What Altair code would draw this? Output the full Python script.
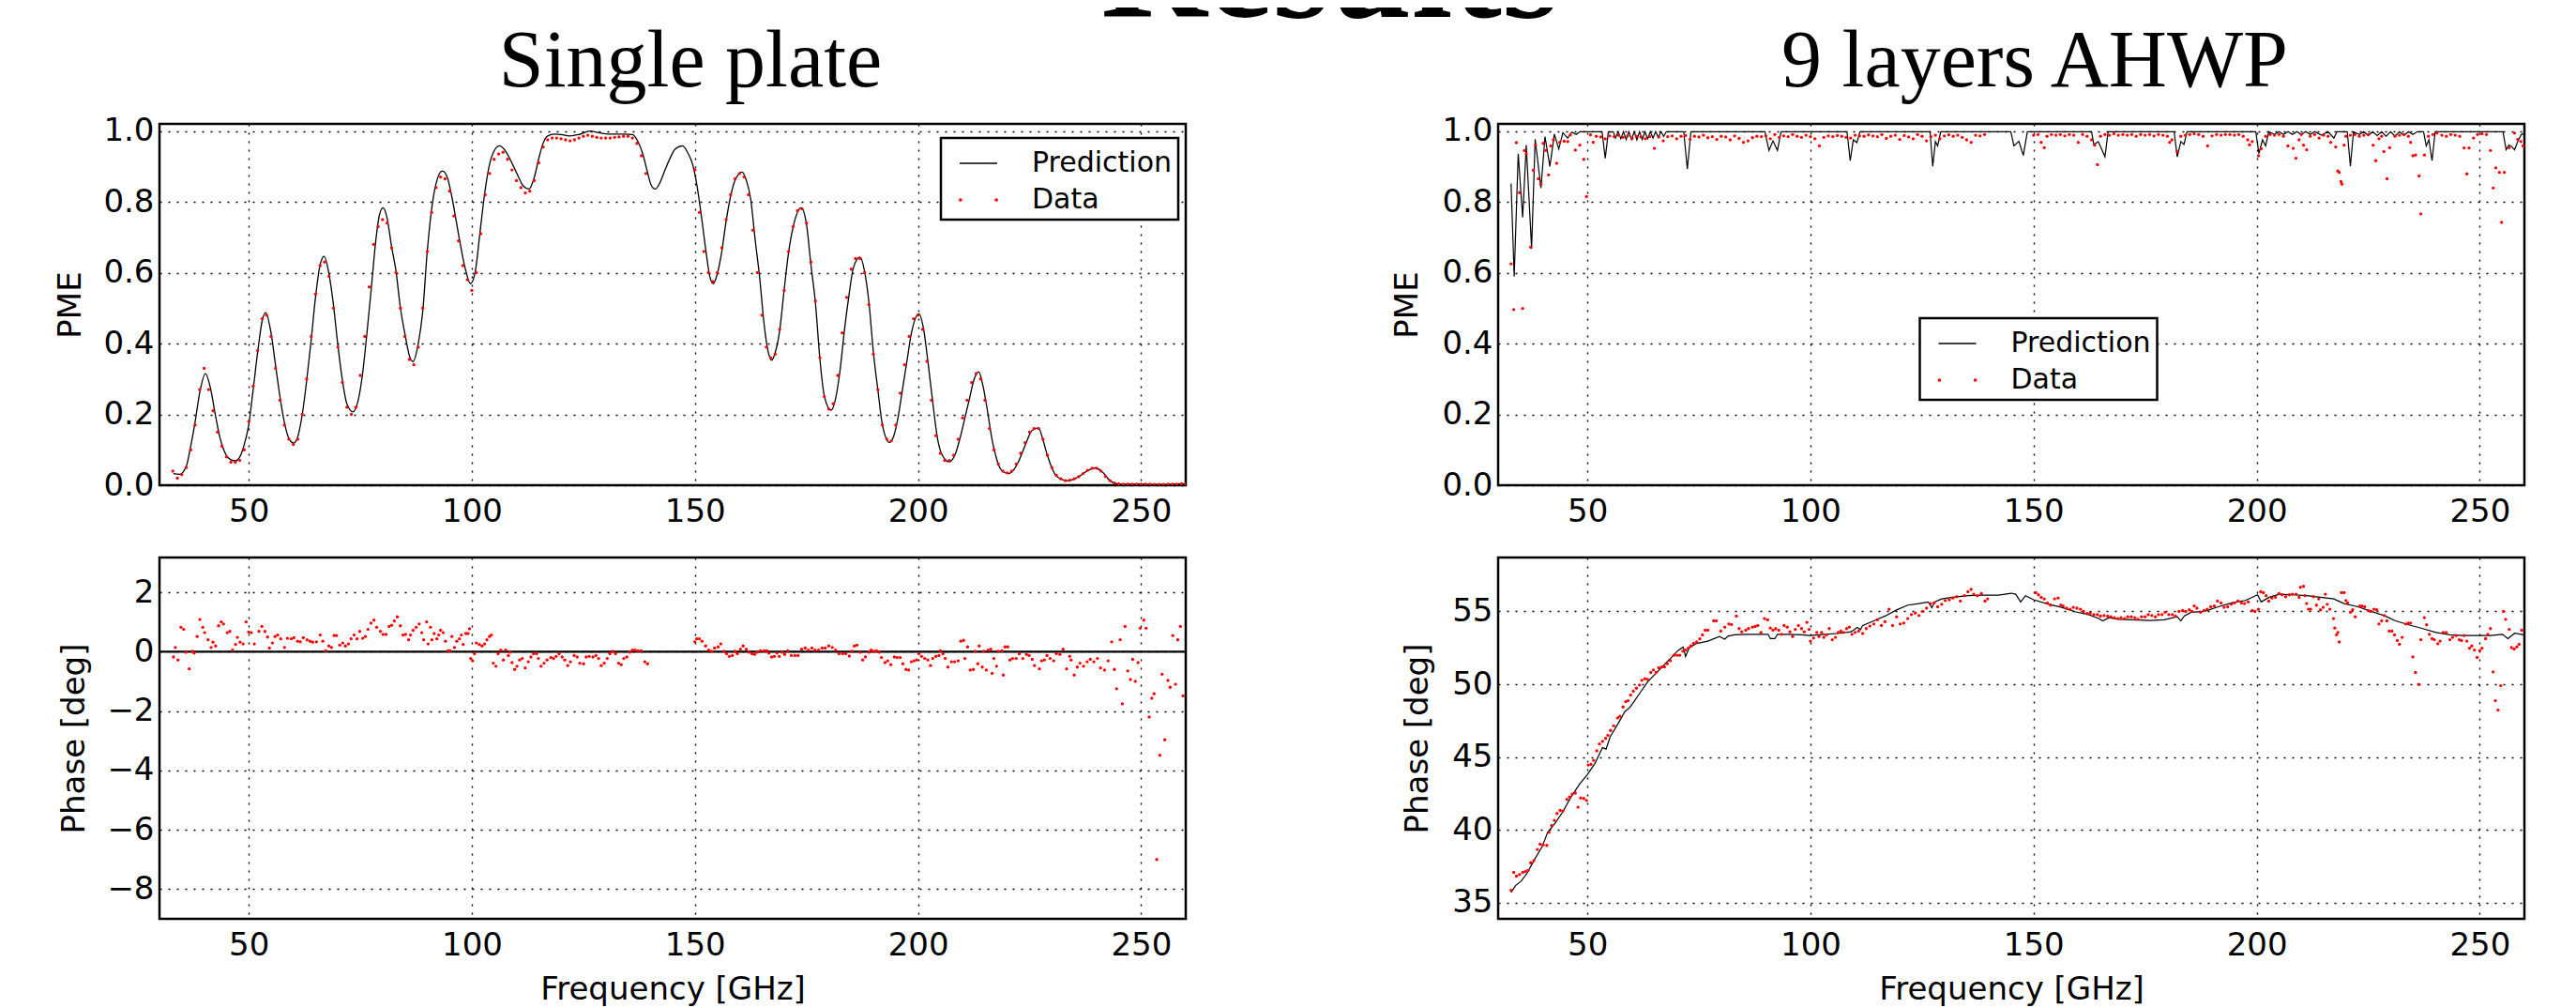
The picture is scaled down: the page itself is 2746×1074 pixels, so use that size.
import altair as alt
import pandas as pd

# ---------------- data (GHz, value) ----------------
SP_PRED = [(33.1,0.033),(34.5,0.031),(36,0.053),(37,0.11),(38,0.18),(39,0.26),(40.3,0.315),(41.5,0.27),(42.5,0.2),(43.5,0.137),(44.5,0.097),(46,0.072),(47,0.069),(48,0.08),(49,0.115),(50,0.17),(51,0.27),(52,0.375),(53,0.463),(53.8,0.487),(55,0.43),(56,0.34),(57,0.25),(58,0.177),(59,0.132),(60.1,0.119),(61,0.137),(62,0.2),(63,0.296),(64,0.41),(65,0.534),(66,0.622),(66.9,0.646),(68,0.596),(69,0.508),(70,0.393),(71,0.296),(72,0.23),(73.4,0.207),(74.5,0.238),(75.5,0.313),(76.5,0.43),(77.5,0.56),(78.5,0.693),(79.3,0.763),(80.1,0.783),(81,0.755),(82,0.675),(83,0.605),(84,0.5),(85,0.428),(86,0.366),(86.8,0.349),(88,0.4),(89,0.49),(90,0.658),(91,0.78),(92,0.852),(93.4,0.887),(94.5,0.869),(95.5,0.816),(96.5,0.746),(97.5,0.675),(98.5,0.613),(99.7,0.569),(100.8,0.605),(101.8,0.71),(102.8,0.816),(103.8,0.896),(105,0.944),(106.2,0.958),(107.5,0.944),(108.5,0.922),(109.5,0.896),(110.5,0.869),(111.5,0.845),(112.8,0.836),(114,0.869),(115,0.922),(116,0.966),(117,0.986),(118.5,0.991),(120,0.99),(122,0.986),(124,0.99),(126.5,1.0),(128.5,0.995),(131,0.991),(134,0.991),(136,0.99),(137.2,0.971),(138.3,0.936),(139.3,0.887),(140.2,0.847),(141.1,0.836),(142.2,0.855),(143.3,0.89),(144.5,0.925),(145.5,0.948),(147.2,0.958),(148.5,0.936),(149.5,0.905),(150.5,0.843),(151.5,0.755),(152.5,0.658),(153.3,0.591),(154.1,0.569),(155,0.596),(156,0.658),(157,0.746),(158,0.816),(159,0.861),(160.6,0.884),(161.5,0.861),(162.5,0.808),(163.5,0.693),(164.5,0.587),(165.5,0.455),(166.3,0.384),(167.2,0.353),(168,0.375),(169,0.437),(170,0.552),(171,0.658),(172,0.728),(173.8,0.783),(175,0.737),(176,0.622),(177,0.516),(178,0.357),(179,0.252),(180.5,0.212),(181.5,0.243),(182.5,0.322),(183.5,0.437),(184.5,0.534),(185.5,0.613),(187,0.644),(188,0.605),(189,0.516),(190,0.375),(191,0.269),(192,0.172),(193.6,0.121),(194.5,0.137),(195.5,0.19),(196.5,0.269),(197.5,0.349),(198.5,0.428),(200.2,0.484),(201.3,0.437),(202.3,0.34),(203.3,0.234),(204.3,0.137),(205.3,0.088),(207,0.066),(208.5,0.093),(209.5,0.137),(210.5,0.19),(211.5,0.243),(212.5,0.296),(213.6,0.32),(214.6,0.278),(215.6,0.207),(216.6,0.128),(217.6,0.075),(218.6,0.044),(220.2,0.033),(221.5,0.044),(222.5,0.066),(223.5,0.097),(224.5,0.128),(225.5,0.154),(227,0.162),(228,0.128),(229,0.084),(230,0.049),(231,0.026),(233.6,0.013),(236,0.024),(238,0.041),(239.7,0.049),(241.5,0.035),(243,0.013),(245,0.003),(250,0.003),(255,0.002),(260,0.004)]

SP_DATA = [(33,.04),(34,.02),(35,.03),(36,.05),(37,.10),(38,.17),(39,.27),(40,.33),(41,.27),(42,.21),(43,.15),(44,.11),(45,.08),(46,.065),(47,.065),(48,.07),(49,.10),(50,.18),(51,.28),(52,.38),(53,.47),(54,.48),(55,.42),(56,.33),(57,.24),(58,.17),(59,.13),(60,.115),(61,.13),(62,.20),(63,.30),(64,.42),(65,.54),(66,.62),(67,.63),(68,.59),(69,.50),(70,.39),(71,.29),(72,.22),(73,.20),(74,.22),(75,.31),(76,.42),(77,.56),(78,.68),(79,.73),(80,.75),(81,.74),(82,.67),(83,.60),(84,.50),(85,.42),(86,.355),(87,.34),(88,.39),(89,.50),(90,.66),(91,.77),(92,.84),(93,.87),(94,.865),(95,.83),(96,.76),(97,.69),(98,.62),(99,.58),(100,.55),(101,.60),(102,.71),(103,.82),(104,.88),(105,.92),(106,.935),(107,.94),(108,.92),(109,.89),(110,.86),(111,.84),(112,.825),(113,.83),(114,.86),(115,.91),(116,.955),(117,.975),(118,.98),(119,.98),(120,.978),(121,.975),(122,.972),(123,.975),(124,.98),(125,.985),(126,.988),(127,.985),(128,.982),(129,.98),(130,.98),(131,.98),(132,.982),(133,.983),(134,.985),(135,.985),(136,.98),(137,.965),(138,.93),(139,.88),
(150,.89),(151,.77),(152,.66),(153,.60),(154,.575),(155,.60),(156,.67),(157,.75),(158,.82),(159,.865),(160,.88),(161,.87),(162,.82),(163,.72),(164,.60),(165,.48),(166,.39),(167,.36),(168,.37),(169,.44),(170,.55),(171,.66),(172,.73),(173,.775),(174,.78),(175,.74),(176,.63),(177,.52),(178,.36),(179,.25),(180,.215),(181,.23),(182,.31),(183,.43),(184,.53),(185,.61),(186,.64),(187,.64),(188,.60),(189,.51),(190,.37),(191,.27),(192,.17),(193,.13),(194,.125),(195,.17),(196,.26),(197,.34),(198,.42),(199,.47),(200,.48),(201,.44),(202,.35),(203,.24),(204,.14),(205,.09),(206,.07),(207,.07),(208,.085),(209,.13),(210,.19),(211,.24),(212,.29),(213,.315),(214,.30),(215,.24),(216,.16),(217,.10),(218,.06),(219,.04),(220,.035),(221,.04),(222,.06),(223,.09),(224,.12),(225,.15),(226,.16),(227,.16),(228,.13),(229,.085),(230,.05),(231,.028),(232,.018),(233,.013),(234,.014),(235,.018),(236,.024),(237,.033),(238,.042),(239,.048),(240,.048),(241,.04),(242,.025),(243,.013),(244,.006),(245,.004),(246,.003),(247,.003),(248,.003),(249,.003),(250,.003),(251,.003),(252,.003),(253,.002),(254,.002),(255,.002),(256,.003),(257,.003),(258,.003),(259,.004),(260,.004)]

AH_PRED = [(32.9,0.852),(33.6,0.589),(34.5,0.936),(35.5,0.756),(36.3,0.96),(37.5,0.668),(38.3,0.977),(39.6,0.839),(40.5,0.984),(41.6,0.9),(42.6,0.991),(43.6,0.949),(44.5,0.995),(45.6,0.98),(46.5,0.997),(47.5,0.99),(48.3,0.998),(53.3,0.998),(54.0,0.923),(54.7,0.997),(55.8,0.998),(56.3,0.98),(56.9,0.998),(57.5,0.978),(58.1,0.998),(58.7,0.976),(59.3,0.998),(59.9,0.976),(60.5,0.998),(61.1,0.975),(61.7,0.998),(62.3,0.976),(62.9,0.998),(63.5,0.978),(64.1,0.998),(64.7,0.98),(65.3,0.998),(65.9,0.982),(66.5,0.998),(67.1,0.985),(67.7,0.998),(71.6,0.998),(72.4,0.892),(73.2,0.998),(89.8,0.998),(90.7,0.945),(91.6,0.972),(92.6,0.945),(93.4,0.998),(108.2,0.998),(108.9,0.916),(109.6,0.975),(110.4,0.967),(111.1,0.998),(126.8,0.998),(127.4,0.9),(128.0,0.97),(128.5,0.958),(129.2,0.998),(144.9,0.998),(145.6,0.958),(146.7,0.971),(147.7,0.931),(148.6,0.998),(163.0,0.998),(163.5,0.962),(164.5,0.97),(166.0,0.927),(166.7,0.998),(181.5,0.998),(182.2,0.927),(183.0,0.97),(183.7,0.962),(184.4,0.998),(199.8,0.998),(200.5,0.936),(201.3,0.975),(202.0,0.958),(202.7,0.998),(204,0.99),(205,0.998),(206,0.99),(207,0.998),(208,0.99),(209,0.998),(210,0.99),(211,0.998),(212,0.99),(213,0.998),(214.5,0.988),(216,0.998),(217.3,0.98),(218,0.998),(220.3,0.998),(221.0,0.9),(221.7,0.998),(223,0.99),(224,0.998),(225,0.987),(226,0.998),(227,0.987),(228,0.998),(229,0.985),(230,0.998),(231,0.985),(232,0.998),(233,0.987),(234,0.998),(235,0.99),(236,0.998),(237.4,0.998),(238.0,0.958),(238.6,0.975),(239.3,0.916),(240.0,0.998),(255.2,0.998),(255.9,0.947),(256.5,0.96),(257.0,0.958),(257.8,0.947),(258.5,0.97),(259.3,0.99),(260,0.993)]

AH_DATA = [(32.9,0.625),(33.5,0.496),(34.1,0.967),(34.8,0.826),(35.5,0.499),(35.9,0.945),(36.3,0.936),(37.3,0.672),(37.9,0.889),(38.4,0.96),(39.0,0.865),(39.6,0.85),(40.1,0.965),(40.7,0.945),(41.3,0.876),(41.8,0.958),(42.4,0.975),(43.1,0.909),(43.8,0.968),(44.8,0.971),(45.6,0.97),(46.2,0.989),(47.3,0.946),(48.3,0.96),(49.2,0.92),(49.8,0.815),(50.7,0.989),(51.3,0.968),
(52,.985),(53,.983),(54,.978),(55,.986),(56,.984),(57,.988),(58,.982),(59,.986),(60,.979),(61,.985),(62,.983),(63,.978),(64,.984),(65,.951),(66,.983),(67,.972),(68,.984),(69,.986),(70,.978),(71,.985),(72,.987),(73,.976),(74,.985),(75,.983),(76,.988),(77,.981),(78,.984),(79,.976),(80,.985),(81,.983),(82,.975),(83,.986),(84,.979),(85,.968),(86,.972),(87,.981),(88,.985),(89,.984),(90,.986),(91,.978),(92,.99),(93,.982),(94,.986),(95,.984),(96,.99),(97,.985),(98,.982),(99,.988),(100,.984),(101,.978),(102,.958),(103,.982),(104,.986),(105,.984),(106,.987),(107,.985),(108,.982),(109,.98),(110,.988),(111,.986),(112,.985),(113,.989),(114,.986),(115,.984),(116,.99),(117,.979),(118,.985),(119,.988),(120,.976),(121,.987),(122,.983),(123,.978),(124,.99),(125,.985),(126,.972),(127,.984),(128,.988),(129,.978),(130,.986),(131,.989),(132,.985),(133,.988),(134,.982),(135,.975),(136,.968),(137,.988),(138,.986),(139,.99),
(150,.988),(151,.99),(151.7,.968),(152.4,.953),(153,.985),(154,.99),(155,.988),(156,.99),(157,.986),(158,.99),(159,.988),(160,.968),(161,.99),(162,.985),(163,.975),(163.7,.96),(164.3,.905),(165,.985),(166,.99),(167,.988),(168,.992),(169,.988),(170,.99),(171,.988),(172,.99),(173,.985),(174,.99),(175,.988),(176,.99),(177,.986),(178,.99),(179,.988),(180,.985),(180.5,.968),(181,.975),(182.2,.942),(183,.985),(184,.988),(185,.99),(186,.992),(187,.99),(188,.985),(189,.958),(190,.986),(191,.99),(192,.988),(193,.99),(194,.99),(195,.988),(196,.99),(197,.985),(198,.975),(198.4,.961),(199,.97),(200.4,.93),(201,.95),(202,.985),(203,.99),(204,.988),(205,.99),(206,.985),(207,.958),(208.2,.951),(208.8,.923),(209.5,.975),(210,.99),(210.5,.96),(211.2,.947),(212,.985),(213,.99),(214,.98),(215,.988),(216,.985),(216.6,.968),(217.7,.955),(218.2,.887),(218.5,.883),(218.9,.857),(219.1,.85),(219.6,.96),(220,.985),(221,.988),(222,.99),(223,.985),(224,.988),(225,.99),(226.1,.96),(226.7,.916),(227.4,.978),(228,.985),(228.5,.942),(229.2,.865),(229.8,.953),(231,.985),(232,.988),(233,.99),(234,.985),(234.5,.968),(235,.93),(235.6,.932),(236.4,.873),(236.8,.766),(237.6,.932),(238.5,.985),(239.5,.99),(240.4,.994),(241.5,.988),(242.5,.985),(243.5,.99),(244.5,.988),(245.5,.985),(246.5,.952),(247.1,.879),(247.6,.952),(248.6,.98),(249.5,.99),(250.5,.992),(251.5,.99),(252.4,.945),(253,.839),(253.6,.896),(254.4,.883),(254.9,.742),(255.5,.883),(256.6,.953),(257.8,.994),(258.5,.976),(259.2,.97),(259.7,.958)]

SPP_PRED = [(30, 0.0), (260, 0.0)]

SPP_DATA = [(33.14,-0.18),(33.56,0.14),(34.15,-0.28),(34.82,0.82),(35.41,0.75),(35.92,-0.02),(36.68,-0.58),(37.35,0.01),(37.77,-0.05),(38.45,0.51),(39.04,1.08),(39.71,0.82),(40.13,0.64),(40.89,0.4),(41.57,0.14),(41.99,0.32),(42.58,0.19),(43.25,0.87),(43.84,1.0),(44.35,0.93),(45.19,0.64),(45.78,0.68),(46.37,0.05),(47.05,0.24),(47.47,0.48),(48.06,0.32),(48.74,0.26),(49.41,1.0),(50.0,0.66),(50.59,0.64),(51.26,0.26),(52.28,0.68),(52.95,0.85),(53.63,0.68),(54.22,0.49),(54.64,0.12),(55.31,0.29),(55.9,0.51),(56.49,0.56),(57.17,0.43),(58.01,0.14),(58.68,0.45),(59.53,0.43),(60.12,0.47),(60.96,0.35),(61.55,0.33),(62.23,0.47),(63.07,0.4),(63.74,0.35),(64.33,0.32),(65.18,0.33),(66.02,0.56),(66.61,0.35),(67.28,0.03),(67.96,0.19),(68.55,0.14),(69.14,0.54),(69.65,0.54),(70.4,0.22),(71.08,0.29),(71.67,0.19),(72.34,0.26),(72.93,0.43),(73.61,0.56),(74.28,0.43),(74.87,0.68),(75.55,0.45),(76.14,0.51),(76.73,0.75),(77.4,0.96),(78.08,1.06),(78.67,0.82),(79.51,0.68),(80.1,0.58),(80.78,0.58),(81.45,0.85),(82.04,0.89),(82.63,1.03),(83.31,1.17),(83.98,0.87),(84.57,0.56),(85.16,0.58),(85.83,0.4),(86.26,0.56),(86.85,0.72),(87.52,0.82),(88.2,0.93),(88.79,0.64),(89.21,0.4),(89.88,1.0),(90.22,0.26),(90.73,0.82),(91.06,0.4),(91.57,0.61),(92.16,0.43),(92.58,0.56),(93.0,0.72),(93.59,0.64),(94.1,0.35),(94.69,0.03),(95.11,0.03),(95.53,0.51),(96.12,0.14),(96.63,0.35),(97.22,0.43),(97.64,0.56),(98.06,0.24),(98.65,0.61),(99.16,0.61),(99.49,0.77),(99.75,-0.23),(100.17,-0.31),(100.59,-0.07),(101.01,0.29),(101.69,0.24),(102.28,0.19),(102.87,0.26),(103.37,0.4),(103.96,0.51),(104.38,0.56),(104.81,-0.39),(105.4,-0.49),(105.9,-0.07),(106.49,0.05),(107.08,-0.28),(107.59,0.05),(108.18,-0.13),(108.6,-0.02),(109.02,-0.37),(109.61,-0.6),(110.12,-0.49),(110.71,-0.28),(111.3,-0.23),(111.97,-0.55),(112.65,-0.34),(113.24,-0.18),(113.83,-0.07),(114.5,-0.07),(114.92,-0.23),(115.51,-0.49),(116.19,-0.39),(116.86,-0.28),(117.71,-0.2),(118.3,-0.23),(118.89,-0.16),(119.56,-0.07),(120.24,-0.18),(120.83,-0.28),(121.5,-0.47),(122.09,-0.34),(122.93,-0.13),(123.61,-0.18),(124.2,-0.39),(125.04,-0.41),(125.63,-0.18),(126.31,-0.16),(127.15,-0.18),(127.82,-0.13),(128.41,-0.23),(129.01,-0.47),(129.68,-0.39),(130.35,-0.23),(130.94,-0.07),(131.53,0.01),(132.21,-0.07),(132.88,-0.39),(133.47,-0.44),(134.06,-0.23),(134.74,-0.18),(135.41,-0.02),(136.0,0.05),(136.59,0.05),(137.27,0.03),(137.94,0.03),(138.78,-0.34),(139.38,-0.41),
(150.0,0.33),(150.4,0.43),(151.0,0.43),(151.6,0.35),(152.4,0.19),(153.1,0.05),(153.7,0.01),(154.4,0.12),(155.2,0.16),(155.8,0.26),(156.5,0.01),(157.1,-0.07),(157.7,-0.16),(158.4,-0.13),(159.0,0.01),(159.5,-0.07),(160.2,0.08),(160.8,0.19),(161.5,0.08),(162.1,-0.02),(162.8,-0.07),(163.4,-0.09),(164.0,-0.02),(164.7,0.03),(165.5,0.03),(166.1,0.03),(166.6,-0.05),(167.2,-0.18),(167.8,-0.16),(168.4,-0.05),(168.9,-0.16),(169.5,-0.02),(170.1,-0.09),(170.8,0.03),(171.6,-0.13),(172.4,-0.13),(173.1,-0.13),(173.9,0.08),(174.7,0.12),(175.4,0.05),(176.2,0.12),(176.9,0.05),(177.7,0.05),(178.5,0.12),(179.2,0.12),(180.0,0.19),(180.8,0.14),(181.5,0.05),(182.3,-0.07),(183.1,-0.07),(183.8,-0.07),(184.6,-0.15),(185.2,0.01),(185.7,0.19),(186.3,0.22),(187.0,-0.02),(187.6,-0.28),(188.2,-0.18),(189.0,-0.02),(189.5,0.05),(190.1,0.01),(190.7,0.03),(191.3,-0.02),(191.8,-0.2),(192.6,-0.37),(193.2,-0.31),(193.9,-0.44),(194.7,-0.18),(195.3,-0.2),(196.0,-0.2),(196.6,-0.41),(197.3,-0.6),(197.9,-0.62),(198.5,-0.34),(199.1,-0.31),(199.7,-0.28),(200.2,-0.07),(200.8,-0.16),(201.5,-0.23),(202.2,-0.28),(202.8,-0.47),(203.3,-0.23),(204.0,-0.16),(204.7,-0.13),(205.0,0.03),(205.6,-0.07),(206.1,-0.23),(206.7,-0.52),(207.5,-0.34),(208.2,-0.34),(209.0,-0.31),(209.6,0.35),(210.2,0.38),(210.5,-0.23),(211.1,0.16),(211.7,-0.62),(212.4,-0.6),(212.8,0.01),(213.4,-0.41),(213.7,0.19),(214.4,-0.52),(214.7,0.01),(215.3,-0.62),(215.7,0.05),(216.3,0.08),(216.6,-0.73),(217.0,-0.23),(217.6,-0.49),(218.0,0.01),(218.8,0.03),(219.1,-0.79),(219.5,0.16),(220.1,0.16),(220.6,-0.28),(221.2,-0.23),(222.0,-0.23),(222.7,-0.07),(223.5,-0.23),(224.3,-0.09),(224.9,-0.13),(225.6,-0.26),(226.1,-0.47),(227.2,-0.58),(227.7,-0.31),(228.3,-0.28),(228.9,-0.13),(229.6,-0.23),(230.4,-0.31),(231.0,-0.07),(231.8,-0.09),(232.5,0.08),(233.3,-0.58),(234.0,-0.16),(234.3,-0.28),(235.0,-0.79),(235.7,-0.52),(236.3,-0.39),(237.1,-0.49),(237.9,-0.34),(238.6,-0.26),(239.4,-0.34),(240.2,-0.23),(240.9,-0.55),(241.8,-0.62),(242.6,-0.31),(243.4,0.33),(244.0,-0.6),(244.5,-1.25),(245.3,0.4),(245.8,-1.76),(246.4,0.85),(247.0,-0.65),(247.6,-0.94),(248.1,-0.26),(248.7,-1.0),(249.3,-0.37),(249.8,0.79),(250.6,1.06),(251.1,0.79),(251.8,-2.2),(252.4,-1.57),(252.9,-1.42),(253.5,-7.0),(254.2,-3.49),(254.7,-0.76),(255.3,-2.97),(256.0,-0.97),(256.5,-1.2),(257.1,0.54),(257.7,-1.1),(258.2,0.4),(258.8,0.85),(259.4,-1.49)]

AHP_PRED = [(32.9,35.71),(33.9,36.18),(35.2,36.5),(36.5,37.04),(38.2,38.0),(39.9,38.87),(41.1,39.84),(42.8,40.48),(44.5,41.24),(46.2,42.2),(48.3,43.17),(50.0,43.8),(51.7,44.57),(53.4,45.65),(54.2,45.55),(55.1,46.4),(56.8,47.26),(58.4,48.12),(59.5,48.4),(60.1,48.66),(61.8,49.41),(63.5,50.16),(65.2,50.7),(66.9,51.24),(68.6,51.77),(70.3,52.31),(71.5,52.55),(72.0,51.9),(72.8,52.5),(74.5,52.8),(77.0,52.96),(79.6,53.28),(80.8,53.1),(81.5,53.3),(82.9,53.39),(85.5,53.43),(88.0,53.43),(90.5,53.43),(91.0,53.13),(92.0,53.13),(92.6,53.43),(94.8,53.43),(98.1,53.39),(99.8,53.34),(103.2,53.43),(106.6,53.5),(109.1,53.6),(110.5,53.9),(111.2,53.75),(111.7,54.03),(114.2,54.35),(116.7,54.68),(119.3,55.1),(121.8,55.43),(124.3,55.54),(126.4,55.65),(127.2,55.25),(127.8,55.65),(129.4,55.86),(131.9,55.97),(135.3,56.08),(138.7,56.12),(142.1,56.12),(145.0,56.25),(146.0,56.18),(147.1,55.65),(148.2,56.08),(150.0,55.8),(153.2,55.5),(156.3,55.28),(159.3,54.98),(162.4,54.78),(164.7,54.5),(165.5,54.35),(166.9,54.57),(169.2,54.46),(172.3,54.42),(176.1,54.38),(179.2,54.42),(182.2,54.63),(183.0,54.35),(183.8,54.7),(185.3,54.94),(188.3,55.0),(191.4,55.32),(194.4,55.58),(197.5,55.75),(200.2,56.14),(201.0,55.65),(202.8,55.97),(205.1,56.18),(208.2,56.14),(211.2,56.08),(214.3,55.97),(217.3,55.86),(219.6,55.54),(222.7,55.32),(225.7,55.0),(228.8,54.68),(231.1,54.35),(234.1,54.08),(237.2,53.82),(240.2,53.56),(243.3,53.39),(246.3,53.34),(249.4,53.34),(252.4,53.34),(255.1,53.43),(256.3,53.13),(257.8,53.5),(259.9,53.39)]

AHP_DATA = [(32.9,35.86),(33.5,37.09),(34.1,36.83),(34.8,36.94),(35.5,37.09),(36.1,37.15),(36.7,37.22),(37.3,37.75),(38.0,37.9),(38.8,38.66),(39.4,39.02),(40.1,38.98),(40.9,38.94),(41.4,39.84),(42.0,40.31),(42.6,40.66),(43.2,41.13),(43.9,41.34),(44.5,41.3),(45.4,42.1),(46.0,42.27),(46.6,42.46),(47.3,42.53),(47.9,41.56),(48.5,42.2),(49.2,42.16),(49.8,42.03),(50.2,44.46),(50.8,44.5),(51.4,44.78),(52.1,45.43),(52.7,45.9),(53.4,46.08),(54.1,46.29),(54.6,46.5),(55.2,46.83),(55.9,47.15),(56.8,47.69),(57.3,47.8),(58.0,48.44),(58.6,48.81),(59.1,48.87),(59.7,49.26),(60.3,49.52),(61.0,49.73),(61.7,49.95),(62.2,50.27),(62.9,50.38),(63.5,50.33),(64.2,50.81),(64.8,50.98),(65.4,50.81),(66.0,51.13),(66.7,51.19),(67.3,51.19),(67.9,51.41),(68.6,51.62),(69.4,51.99),(70.1,51.99),(70.7,51.99),(71.4,52.27),(72.0,52.35),(72.6,52.48),(73.2,52.63),(73.8,52.81),(74.5,52.91),(75.2,53.11),(75.8,53.39),(76.4,53.71),(77.0,53.71),(78.3,54.35),(78.9,54.35),(79.9,53.65),(80.8,53.92),(81.7,54.14),(82.3,54.1),(83.4,54.68),(84.0,53.82),(84.6,53.6),(85.5,53.71),(86.1,53.82),(87.0,53.92),(87.6,53.97),(88.2,54.03),(88.9,53.56),(89.7,54.51),(90.4,54.42),(91.0,53.86),(91.6,53.71),(92.2,53.82),(92.9,53.71),(93.5,53.43),(94.1,54.03),(94.8,53.92),(95.4,53.6),(96.0,53.28),(96.6,53.77),(97.3,54.03),(98.0,53.82),(98.6,53.6),(99.2,54.25),(99.7,53.77),(100.0,52.96),(100.7,53.17),(101.4,53.56),(101.9,53.28),(102.5,53.56),(103.0,53.22),(103.6,53.39),(104.2,53.82),(104.9,53.06),(105.6,53.22),(106.2,53.56),(106.8,53.65),(107.4,53.56),(108.1,53.82),(108.7,53.92),(109.3,53.43),(110.0,53.56),(110.8,53.65),(111.7,53.49),(112.5,53.82),(113.3,53.99),(114.2,54.14),(115.0,54.42),(115.9,54.03),(116.7,54.29),(117.6,55.15),(118.4,54.03),(119.3,54.63),(120.1,54.14),(120.9,54.2),(121.8,54.51),(122.6,54.78),(123.5,54.89),(124.3,54.72),(125.2,55.0),(126.0,55.22),(126.9,55.54),(127.7,55.58),(128.5,55.32),(129.4,55.49),(130.2,55.75),(131.1,55.8),(131.9,55.92),(132.8,56.01),(133.6,55.71),(134.5,56.08),(135.3,56.35),(136.0,56.51),(136.6,56.18),(137.4,56.08),(138.3,56.23),(139.1,55.71),(139.7,55.86),
(150.5,56.29),(151.1,56.14),(151.7,55.97),(152.4,55.86),(153.1,55.58),(153.8,55.43),(154.7,55.86),(155.5,55.92),(156.1,55.43),(156.6,55.37),(157.4,55.22),(158.2,55.15),(158.9,55.28),(159.7,55.22),(160.5,55.15),(161.2,55.0),(162.0,54.85),(162.7,54.89),(163.5,54.78),(164.3,54.78),(165.0,54.68),(165.8,54.72),(166.6,54.68),(167.3,54.63),(168.1,54.57),(168.9,54.51),(169.6,54.57),(170.4,54.51),(171.1,54.63),(171.9,54.63),(172.7,54.57),(173.4,54.46),(174.2,54.63),(175.0,54.63),(175.7,54.78),(176.5,54.72),(177.3,54.63),(178.0,54.78),(178.8,54.78),(179.5,54.94),(180.3,54.78),(181.1,54.78),(181.8,54.68),(182.6,55.0),(183.4,55.06),(184.1,55.0),(184.9,55.11),(185.5,55.0),(186.0,55.37),(186.6,55.22),(187.4,54.94),(188.2,55.06),(188.9,55.15),(189.7,55.32),(190.5,55.37),(191.2,55.71),(192.0,55.58),(192.7,55.28),(193.5,55.32),(194.3,55.49),(195.0,55.58),(195.8,55.71),(196.6,55.58),(197.3,55.54),(198.1,55.65),(199.0,55.06),(199.6,55.0),(200.4,55.15),(200.9,56.35),(201.5,56.29),(202.1,56.08),(202.7,55.71),(203.4,55.92),(204.2,55.97),(205.0,56.23),(205.7,56.14),(206.5,56.01),(207.3,56.14),(208.0,56.18),(208.8,56.18),(209.5,55.97),(209.8,56.66),(210.5,56.72),(210.8,56.08),(211.2,55.54),(211.6,55.15),(212.1,55.15),(212.7,56.01),(213.4,55.43),(213.9,55.86),(214.3,55.11),(214.9,55.28),(215.4,56.18),(215.8,55.49),(216.4,55.15),(217.2,54.51),(217.5,53.86),(217.9,53.39),(218.2,53.56),(218.5,52.91),(219.0,56.29),(219.6,56.29),(220.0,55.75),(220.4,55.58),(221.0,54.94),(221.5,55.11),(222.1,54.63),(223.1,55.37),(223.6,55.37),(224.2,55.32),(225.0,55.06),(225.6,55.0),(226.3,55.15),(226.9,55.11),(227.4,54.14),(228.0,54.35),(228.6,54.72),(229.2,54.35),(229.7,53.65),(230.3,53.65),(230.9,53.39),(231.5,53.0),(232.0,52.74),(232.6,53.22),(233.4,54.14),(234.0,54.2),(234.5,54.2),(235.0,51.88),(235.6,50.81),(236.3,49.99),(236.8,53.06),(237.6,54.57),(238.1,54.08),(238.7,53.43),(239.3,53.13),(239.8,53.06),(240.6,52.78),(241.1,52.96),(241.8,53.56),(242.5,53.56),(243.3,53.06),(243.9,53.22),(244.7,53.34),(245.4,53.06),(245.9,53.0),(246.5,53.34),(247.1,52.96),(247.7,52.48),(248.2,52.63),(248.8,52.35),(249.4,51.84),(250.0,52.31),(250.5,52.48),(251.3,53.13),(251.8,53.43),(252.4,53.82),(253.0,50.85),(253.5,48.87),(254.1,48.23),(254.7,49.9),(255.3,55.0),(255.8,54.46),(256.6,53.77),(257.1,52.52),(257.7,52.42),(258.3,52.57),(258.8,52.74),(259.4,53.71)]

LEGEND_SERIES = ["Prediction", "Data"]
X_TICKS = [50, 100, 150, 200, 250]
PME_TICKS = [0.0, 0.2, 0.4, 0.6, 0.8, 1.0]
SPP_TICKS = [-8, -6, -4, -2, 0, 2]
AHP_TICKS = [35, 40, 45, 50, 55]

# ---------------- styling ----------------
W, H = 1094, 385
FONT = "DejaVu Sans"
SERIF = "Liberation Serif"
RED = "#ff0000"
# two small dots, like matplotlib's numpoints=2 legend marker
TWO_DOTS = ("M-1.01,0a0.055,0.055 0 1,0 0.11,0a0.055,0.055 0 1,0 -0.11,0Z "
            "M0.90,0a0.055,0.055 0 1,0 0.11,0a0.055,0.055 0 1,0 -0.11,0Z")


def frame(pairs):
    return pd.DataFrame(pairs, columns=["f", "v"])


def x_enc(title):
    kw = dict(values=X_TICKS, format="d", labelPadding=11, minExtent=45, maxExtent=45)
    if title:
        kw.update(title="Frequency [GHz]", titlePadding=13)
    else:
        kw.update(title=None)
    return alt.X("f:Q", scale=alt.Scale(domain=[30, 260], nice=False, zero=False),
                 axis=alt.Axis(**kw))


def y_enc(domain, ticks, fmt, title, tpad):
    return alt.Y("v:Q", scale=alt.Scale(domain=domain, nice=False, zero=False),
                 axis=alt.Axis(values=ticks, format=fmt, title=title, titlePadding=tpad,
                               labelPadding=6, minExtent=60, maxExtent=60))


def legend_layer(lx, ly):
    leg = alt.Legend(title=None, orient="none", legendX=lx, legendY=ly,
                     symbolSize=1600, symbolStrokeWidth=1.5, symbolFillColor=RED,
                     symbolOpacity=1, symbolOffset=13, labelOffset=36,
                     labelFont=FONT, labelFontSize=30, labelColor="black", labelLimit=400,
                     padding=6, rowPadding=3, strokeColor="black", fillColor="white")
    return alt.Chart(pd.DataFrame({"series": LEGEND_SERIES})).mark_point(
        opacity=0, filled=False).encode(
        color=alt.Color("series:N", scale=alt.Scale(domain=LEGEND_SERIES, range=["black", RED]),
                        legend=leg),
        shape=alt.Shape("series:N", scale=alt.Scale(domain=LEGEND_SERIES, range=["stroke", TWO_DOTS]),
                        legend=leg),
    )


def panel(pred, data, ydom, yticks, yfmt, ytitle, tpad, xtitle, line_kw, leg=None, title=None):
    x = x_enc(xtitle)
    y = y_enc(ydom, yticks, yfmt, ytitle, tpad)
    line = alt.Chart(frame(pred)).mark_line(color="black", clip=True, **line_kw).encode(x=x, y=y)
    pts = alt.Chart(frame(data)).mark_circle(color=RED, size=11, opacity=1, clip=True).encode(x=x, y=y)
    layers = [line, pts]
    if leg is not None:
        layers.append(legend_layer(*leg))
    props = dict(width=W, height=H)
    if title is not None:
        props["title"] = title
    return alt.layer(*layers).properties(**props)


def sub_title(text, dx):
    return alt.TitleParams(text=text, font=SERIF, fontSize=86, fontWeight="normal", color="black",
                           anchor="middle", frame="group", baseline="alphabetic", offset=-55, dx=dx)


tl = panel(SP_PRED, SP_DATA, [0, 1.02], PME_TICKS, ".1f", "PME", 17.5, False,
           dict(strokeWidth=1.3, interpolate="monotone"), leg=(833, 15),
           title=sub_title("Single plate", 19))
tr = panel(AH_PRED, AH_DATA, [0, 1.02], PME_TICKS, ".1f", "PME", 20, False,
           dict(strokeWidth=1.2), leg=(449.5, 207),
           title=sub_title("9 layers AHWP", 25))
bl = panel(SPP_PRED, SPP_DATA, [-9.0, 3.17], SPP_TICKS, "d", "Phase [deg]", 14, True,
           dict(strokeWidth=2.2))
br = panel(AHP_PRED, AHP_DATA, [33.9, 58.7], AHP_TICKS, "d", "Phase [deg]", 8.6, True,
           dict(strokeWidth=1.2))

chart = alt.concat(
    tl, tr, bl, br, columns=2, bounds="flush",
    spacing={"row": 77, "column": 333},
    title=alt.TitleParams(text="Results", font=SERIF, fontSize=157, fontWeight="bold",
                          color="black", anchor="middle", baseline="alphabetic",
                          offset=-154, dx=43),
).resolve_scale(
    x="independent", y="independent", color="independent", shape="independent"
).resolve_legend(
    color="independent", shape="independent"
).properties(
    padding={"left": 49, "top": -116, "right": 5, "bottom": 0}
).configure_view(
    stroke="black", strokeWidth=2.5
).configure_axis(
    grid=True, gridColor="black", gridDash=[2, 7], gridWidth=1.4, gridOpacity=1,
    domain=False, ticks=True, tickSize=0,
    labelFont=FONT, labelFontSize=34, labelColor="black", labelFlush=False, labelOverlap=False,
    titleFont=FONT, titleFontSize=34, titleFontWeight="normal", titleColor="black",
).configure_legend(
    strokeWidth=2.5
)

chart.save("out.html", embed_options={"renderer": "svg", "actions": False})
